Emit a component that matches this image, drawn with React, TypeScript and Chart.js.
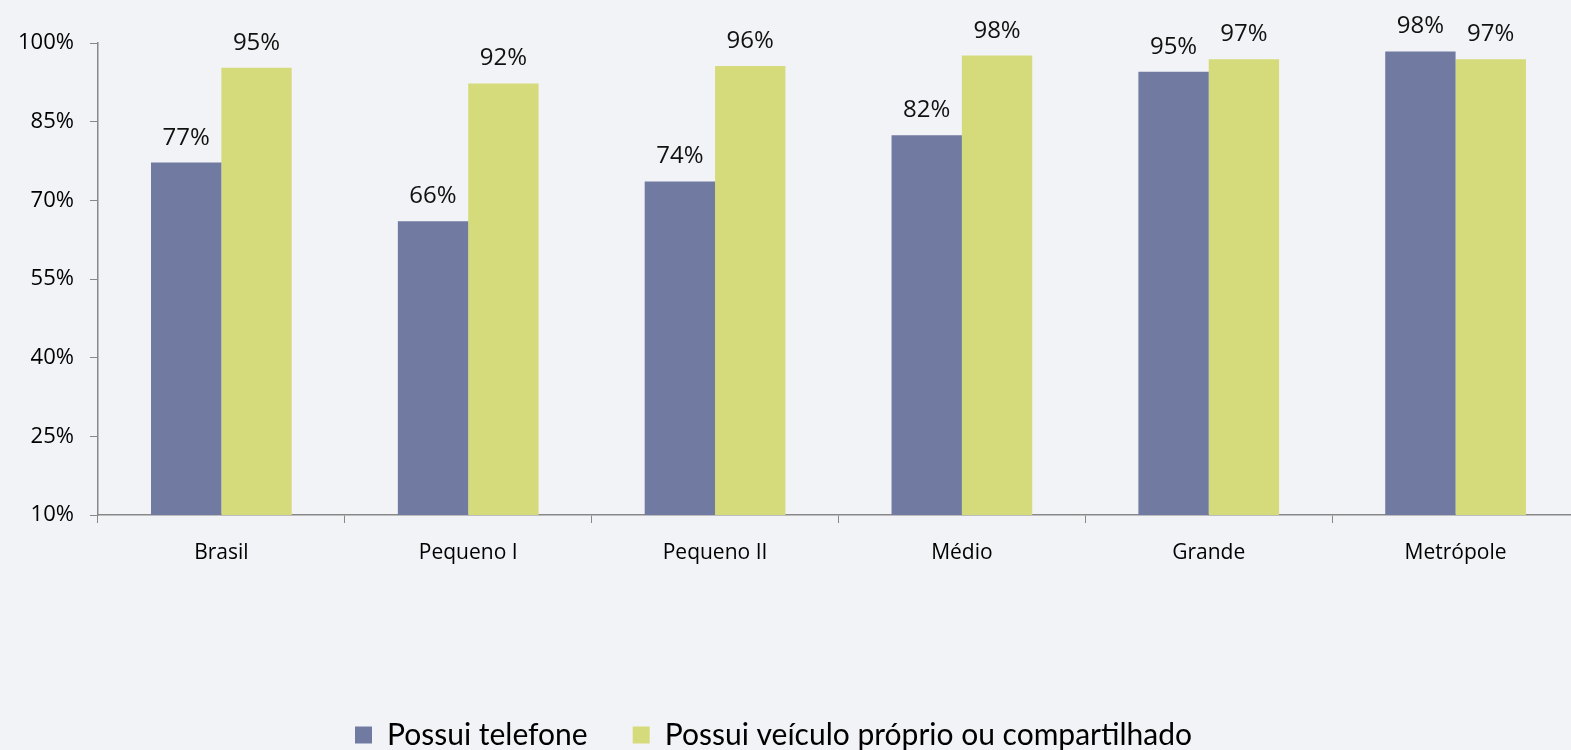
import React, { useEffect, useRef } from "react";
import { Chart, registerables } from "chart.js";

Chart.register(...registerables);

const categories = ["Brasil", "Pequeno I", "Pequeno II", "Médio", "Grande", "Metrópole"];
const telefone = [77.2, 66.0, 73.6, 82.4, 94.5, 98.4];
const veiculo = [95.3, 92.3, 95.6, 97.6, 96.9, 96.9];
const telefoneLabels = ["77%", "66%", "74%", "82%", "95%", "98%"];
const veiculoLabels = ["95%", "92%", "96%", "98%", "97%", "97%"];
const seriesNames = ["Possui telefone", "Possui veículo próprio ou compartilhado"];
const yTicks = { min: 10, max: 100, step: 15 };

const FONT = "'Open Sans', 'Noto Sans', sans-serif";

const labelPlugin = {
  id: "barLabels",
  afterLayout(chart: any) {
    if (chart.legend) {
      chart.legend.left -= 17;
      chart.legend.right -= 17;
      chart.legend.top -= 3;
      chart.legend.bottom -= 3;
    }
  },
  afterDatasetsDraw(chart: any) {
    const ctx = chart.ctx;
    const sets = [telefoneLabels, veiculoLabels];
    ctx.save();
    ctx.font = `24px ${FONT}`;
    ctx.fillStyle = "#111";
    ctx.textAlign = "center";
    ctx.textBaseline = "alphabetic";
    chart.data.datasets.forEach((_: any, di: number) => {
      const meta = chart.getDatasetMeta(di);
      meta.data.forEach((bar: any, i: number) => {
        ctx.fillText(sets[di][i], bar.x, bar.y - 18);
      });
    });
    ctx.restore();
  },
};

export default function App() {
  const ref = useRef<HTMLCanvasElement>(null);
  useEffect(() => {
    document.body.style.margin = "0";
    document.body.style.overflow = "hidden";
    document.body.style.background = "#f2f3f7";
    const chart = new Chart(ref.current!, {
      type: "bar",
      data: {
        labels: categories,
        datasets: [
          {
            label: seriesNames[0],
            data: telefone,
            backgroundColor: "#717aa0",
            categoryPercentage: 0.57,
            barPercentage: 1,
          },
          {
            label: seriesNames[1],
            data: veiculo,
            backgroundColor: "#d5db7b",
            categoryPercentage: 0.57,
            barPercentage: 1,
          },
        ],
      },
      options: {
        responsive: false,
        animation: false,
        layout: { padding: { top: 43, left: 2, right: 1, bottom: -13 } },
        plugins: {
          tooltip: { enabled: false },
          legend: {
            position: "bottom",
            labels: {
              boxWidth: 17,
              boxHeight: 17,
              padding: 45,
              color: "#000",
              font: { family: "Lato, 'Open Sans', sans-serif", size: 30 },
            },
          },
        },
        scales: {
          x: {
            grid: {
              display: true,
              drawOnChartArea: false,
              drawTicks: true,
              tickLength: 8,
              color: "#888",
              offset: true,
            },
            border: { color: "#888", width: 1.5 },
            ticks: { color: "#000", font: { family: FONT, size: 21 }, padding: 17 },
            afterFit: (axis: any) => {
              axis.height = 163;
            },
          },
          y: {
            min: yTicks.min,
            max: yTicks.max,
            grid: {
              display: true,
              drawOnChartArea: false,
              drawTicks: true,
              tickLength: 8,
              color: "#888",
            },
            border: { color: "#888", width: 1.5 },
            ticks: {
              stepSize: yTicks.step,
              color: "#000",
              font: { family: FONT, size: 22 },
              padding: 16,
              callback: (v: any) => v + "%",
            },
          },
        },
      },
      plugins: [labelPlugin],
    });
    return () => chart.destroy();
  }, []);
  return (
    <div style={{ position: "absolute", left: 0, top: 0, width: 1580, height: 750, background: "#f2f3f7" }}>
      <canvas ref={ref} width={1580} height={750} style={{ width: 1580, height: 750 }} />
    </div>
  );
}
